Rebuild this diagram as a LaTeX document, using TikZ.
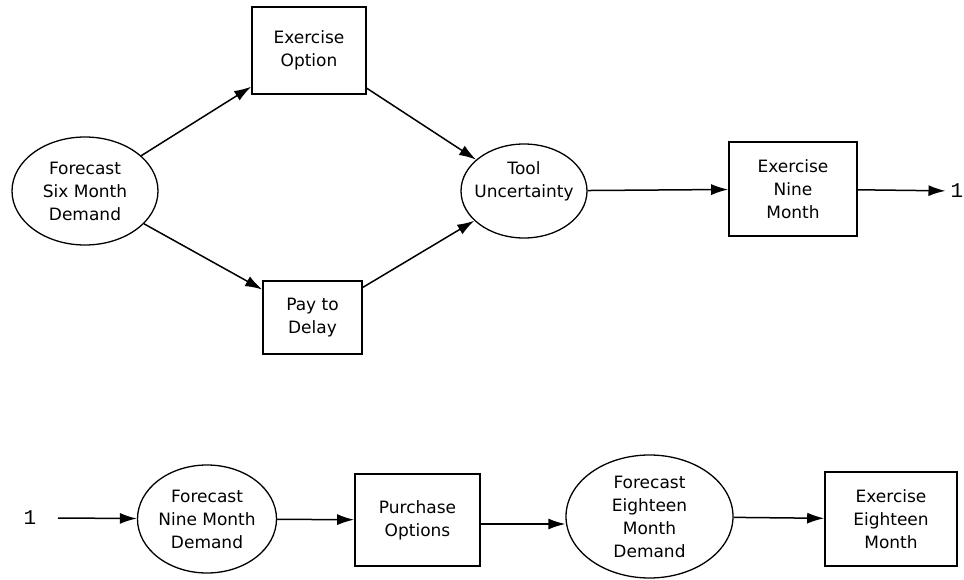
\documentclass[tikz,border=0pt]{standalone}
\usepackage{fontspec}
\setmainfont{DejaVu Sans}
\newfontfamily\onefont{Liberation Mono}
\usetikzlibrary{shapes.geometric,arrows.meta}
\tikzset{
  lbl/.style={font=\fontsize{17}{23}\selectfont, align=center},
  oval/.style={lbl, draw, ellipse, line width=1.3pt, inner xsep=-10pt, inner ysep=0pt},
  boxnode/.style={lbl, draw, rectangle, line width=1.6pt, inner sep=0pt},
  conn/.style={line width=1.5pt, -{Latex[length=17pt,width=11pt]}},
  onelbl/.style={font=\onefont\fontsize{21}{24}\selectfont, inner xsep=5pt, inner ysep=0pt}
}
\begin{document}
\begin{tikzpicture}[x=1pt,y=-1pt]
\useasboundingbox (0,0) rectangle (964,580);
% top row
\node[oval, minimum width=146pt, minimum height=108pt] (fsix) at (85,191) {Forecast\\Six Month\\Demand};
\node[boxnode, minimum width=114pt, minimum height=87pt] (exopt) at (309,50.5) {Exercise\\Option};
\node[boxnode, minimum width=99pt, minimum height=73pt] (pay) at (312.5,317.5) {Pay to\\Delay};
\node[oval, minimum width=126pt, minimum height=94pt,
      label={[lbl, yshift=10pt]center:{Tool\\Uncertainty}}] (tool) at (524,191) {};
\node[boxnode, minimum width=128pt, minimum height=94pt] (exnine) at (793,189) {Exercise\\Nine\\Month};
\node[onelbl] (oneA) at (957,191) {1};
\draw[conn] (fsix) -- (exopt);
\draw[conn] (fsix) -- (pay);
\draw[conn] (exopt) -- (tool);
\draw[conn] (pay) -- (tool);
\draw[conn] (tool) -- (exnine);
\draw[conn] (exnine) -- (oneA);
% bottom row
\node[onelbl] (oneB) at (30,518) {1};
\coordinate (startB) at (58,518);
\node[oval, minimum width=139pt, minimum height=108pt] (fnine) at (207,519) {Forecast\\Nine Month\\Demand};
\node[boxnode, minimum width=125pt, minimum height=92pt] (purch) at (417.5,520) {Purchase\\Options};
\node[oval, minimum width=167pt, minimum height=123pt] (feight) at (649.5,516.5) {Forecast\\Eighteen\\Month\\Demand};
\node[boxnode, minimum width=132pt, minimum height=94pt] (exeight) at (891,519) {Exercise\\Eighteen\\Month};
\draw[conn] (startB) -- (fnine);
\draw[conn] (fnine) -- (purch);
\draw[conn] ([yshift=-4pt]purch.east) -- ([yshift=-4pt]purch.east -| feight.west);
\draw[conn] (feight) -- (exeight);
\end{tikzpicture}
\end{document}
